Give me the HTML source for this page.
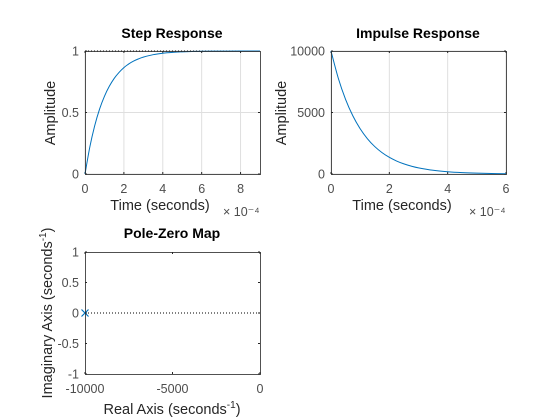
<!DOCTYPE html>
<html><head><meta charset="utf-8"><style>
body{margin:0;background:#fff;}
svg{display:block;font-family:"Liberation Sans",Arial,sans-serif;}
.tick{font-size:12.5px;fill:#4d4d4d;}
.lab{font-size:14.5px;fill:#262626;}
.ttl{font-size:14px;font-weight:bold;fill:#000;}
</style></head><body>
<svg id="fig" width="560" height="420" viewBox="0 0 560 420"></svg>
<script>
const stepT=[0,0.25,0.5,0.75,1,1.25,1.5,1.75,2,2.25,2.5,2.75,3,3.5,4,4.5,5,5.5,6,7,8,9];
const stepY=[0,0.221,0.393,0.528,0.632,0.713,0.777,0.826,0.865,0.895,0.918,0.936,0.950,0.970,0.982,0.989,0.993,0.996,0.998,0.999,1,1];
const impT=[0,0.25,0.5,0.75,1,1.25,1.5,1.75,2,2.25,2.5,2.75,3,3.5,4,4.5,5,5.5,6];
const impY=[10000,7788,6065,4724,3679,2865,2231,1738,1353,1054,821,639,498,302,183,111,67,41,25];
const poleRe=[-10000];
const poleIm=[0];
const stepXTicks=[0,2,4,6,8];
const stepYTicks=[0,0.5,1];
const impXTicks=[0,2,4,6];
const impYTicks=[0,5000,10000];
const pzXTicks=[-10000,-5000,0];
const pzYTicks=[-1,-0.5,0,0.5,1];

const NS="http://www.w3.org/2000/svg";
const svg=document.getElementById('fig');
function mk(tag,attrs,parent,text){const e=document.createElementNS(NS,tag);for(const k in attrs)e.setAttribute(k,attrs[k]);if(text!==undefined)e.textContent=text;(parent||svg).appendChild(e);return e;}
function scale(d0,d1,r0,r1){return v=>r0+(v-d0)/(d1-d0)*(r1-r0);}
function smooth(pts){let d="M"+pts[0][0]+","+pts[0][1];for(let i=0;i<pts.length-1;i++){const p0=pts[i-1]||pts[i],p1=pts[i],p2=pts[i+1],p3=pts[i+2]||p2;d+=" C"+(p1[0]+(p2[0]-p0[0])/6)+","+(p1[1]+(p2[1]-p0[1])/6)+" "+(p2[0]-(p3[0]-p1[0])/6)+","+(p2[1]-(p3[1]-p1[1])/6)+" "+p2[0]+","+p2[1];}return d;}

function axes(name,L,R,T,B,xd,yd,xt,yt,grid,xfmt,yfmt){
  const g=mk('g',{});
  
  
  const x=scale(xd[0],xd[1],L,R),y=scale(yd[0],yd[1],B,T);
  mk('rect',{x:L,y:T,width:R-L,height:B-T,fill:'#fff'},g);
  if(grid){xt.forEach(v=>{const l=mk('line',{x1:x(v),x2:x(v),y1:T,y2:B,stroke:'#dfdfdf','stroke-width':1},g);});
    yt.forEach(v=>{const l=mk('line',{x1:L,x2:R,y1:y(v),y2:y(v),stroke:'#dfdfdf','stroke-width':1},g);});}
  xt.forEach(v=>{mk('line',{x1:x(v),x2:x(v),y1:B,y2:B-2,stroke:'#262626'},g);mk('line',{x1:x(v),x2:x(v),y1:T,y2:T+2,stroke:'#262626'},g);
    const t=mk('text',{x:x(v),y:B+19,'text-anchor':'middle',class:'tick'},g,xfmt(v));});
  yt.forEach(v=>{mk('line',{x1:L,x2:L+2,y1:y(v),y2:y(v),stroke:'#262626'},g);mk('line',{x1:R,x2:R-2,y1:y(v),y2:y(v),stroke:'#262626'},g);
    const t=mk('text',{x:L-6,y:y(v)+4.5,'text-anchor':'end',class:'tick'},g,yfmt(v));});
  return {g,x,y};
}
function frame(g,L,R,T,B){mk('rect',{x:L+0.5,y:T+0.5,width:R-L,height:B-T,fill:'none',stroke:'#262626','stroke-width':0.8},g);}
function txt(name,attrs,s,cls){const t=mk('text',Object.assign({class:cls},attrs),svg,s);return t;}

// Step
let a=axes('step-axes',85,260,51,174,[0,9],[0,1],stepXTicks,stepYTicks,true,v=>String(v),v=>String(v));
mk('line',{x1:85,x2:260,y1:a.y(1),y2:a.y(1),stroke:'#000','stroke-dasharray':'1,2','stroke-width':1},a.g);
let p=mk('path',{d:smooth(stepT.map((t,i)=>[a.x(t),a.y(stepY[i])])),fill:'none',stroke:'#0072bd','stroke-width':1},a.g);

frame(a.g,85,260,51,174);
txt('step-title',{x:172,y:38,'text-anchor':'middle'},'Step Response','ttl');
txt('step-x-label',{x:160,y:210,'text-anchor':'middle'},'Time (seconds)','lab');
txt('step-x-exponent',{x:223,y:216},'× 10⁻⁴','tick');
txt('step-y-label',{x:55,y:113,'text-anchor':'middle',transform:'rotate(-90 55 113)'},'Amplitude','lab');

// Impulse
a=axes('impulse-axes',331,506,51,174,[0,6],[0,10000],impXTicks,impYTicks,true,v=>String(v),v=>String(v));
p=mk('path',{d:smooth(impT.map((t,i)=>[a.x(t),a.y(impY[i])])),fill:'none',stroke:'#0072bd','stroke-width':1},a.g);

frame(a.g,331,506,51,174);
txt('impulse-title',{x:418,y:38,'text-anchor':'middle'},'Impulse Response','ttl');
txt('impulse-x-label',{x:402,y:210,'text-anchor':'middle'},'Time (seconds)','lab');
txt('impulse-x-exponent',{x:469,y:216},'× 10⁻⁴','tick');
txt('impulse-y-label',{x:286,y:113,'text-anchor':'middle',transform:'rotate(-90 286 113)'},'Amplitude','lab');

// Pole-zero
a=axes('pole-zero-axes',85,260,252,374,[-10000,0],[-1,1],pzXTicks,pzYTicks,false,v=>String(v),v=>String(v));
mk('line',{x1:85,x2:260,y1:a.y(0),y2:a.y(0),stroke:'#000','stroke-dasharray':'1,2','stroke-width':1},a.g);
poleRe.forEach((r,i)=>{const cx=a.x(r),cy=a.y(poleIm[i]);const m=mk('path',{d:`M${cx-3.5},${cy-3.5}L${cx+3.5},${cy+3.5}M${cx-3.5},${cy+3.5}L${cx+3.5},${cy-3.5}`,stroke:'#0072bd','stroke-width':1.2},a.g);});
frame(a.g,85,260,252,374);
txt('pole-zero-title',{x:172,y:238,'text-anchor':'middle'},'Pole-Zero Map','ttl');
let t=txt('pole-zero-x-label',{x:172,y:414,'text-anchor':'middle'},'','lab');
t.innerHTML='Real Axis (seconds<tspan dy="-6" font-size="10">-1</tspan><tspan dy="6">)</tspan>';
t=txt('pole-zero-y-label',{x:52,y:313,'text-anchor':'middle',transform:'rotate(-90 52 313)'},'','lab');
t.innerHTML='Imaginary Axis (seconds<tspan dy="-6" font-size="10">-1</tspan><tspan dy="6">)</tspan>';
</script>
</body></html>
